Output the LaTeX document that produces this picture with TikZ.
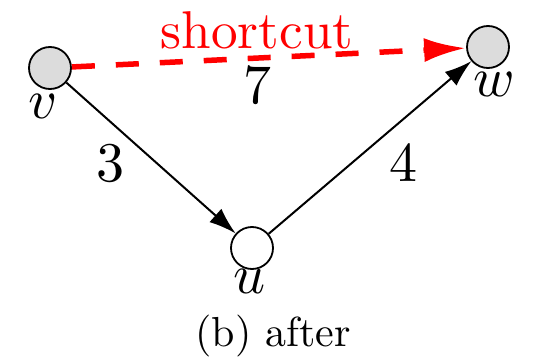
\documentclass[tikz,border=0pt]{standalone}
\usetikzlibrary{arrows.meta}
\definecolor{nodegray}{RGB}{220,220,220}
\begin{document}
\begin{tikzpicture}[x=1pt,y=-1pt,
  vtx/.style={circle,draw=black,line width=1.8pt,minimum size=42pt,inner sep=0pt},
  edge/.style={line width=2pt,-{Latex[length=27pt,width=18pt]}},
  lbl/.style={font=\fontsize{10}{12}\selectfont,scale=5.6,transform shape,inner sep=0pt}]
\useasboundingbox (0,0) rectangle (533,364);
\node[vtx,fill=nodegray] (v) at (50,68) {};
\node[vtx,fill=nodegray] (w) at (488,47) {};
\node[vtx,fill=white] (u) at (252,248) {};
\node[lbl] (vl) at (43,106) {$v$};
\node[lbl] (wl) at (494,84) {$w$};
\node[lbl] (ul) at (250,281) {$u$};
\draw[edge] (v) -- (u);
\draw[edge] (u) -- (w);
\draw[red,line width=5.5pt,dash pattern=on 23pt off 21pt,-{Latex[length=42pt,width=24pt]}] (v) -- (w);
\node[lbl,text=red,scale=0.95] (sc) at (257,30) {shortcut};
\node[lbl] (n7) at (257,85) {$7$};
\node[lbl] (n3) at (110,163) {$3$};
\node[lbl] (n4) at (403,163) {$4$};
\node[lbl,scale=0.75] (cap) at (273,336) {(b) after};
\end{tikzpicture}
\end{document}
